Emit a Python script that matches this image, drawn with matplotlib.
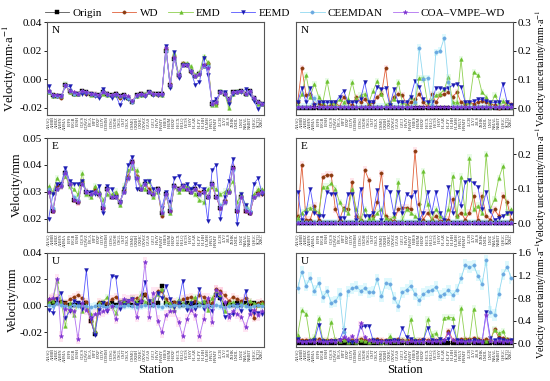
import numpy as np
import matplotlib.pyplot as plt

plt.rcParams['font.family'] = ['Liberation Serif', 'DejaVu Serif']
plt.rcParams['mathtext.fontset'] = 'stix'

stations = ['AHAQ', 'AHBB', 'AHBZ', 'AHHN', 'AHMA', 'BJFS', 'BJGB', 'BJSH', 'CQCS', 'CQWZ',
            'FJCA', 'FJPT', 'FJXP', 'GDJY', 'GDMM', 'GDSG', 'GSDH', 'GSGL', 'GSJT', 'GSLX',
            'GSMQ', 'GXBH', 'GXHC', 'GXWZ', 'GZAS', 'GZCJ', 'HAJY', 'HAMY', 'HBES', 'HBJM',
            'HBXF', 'HECX', 'HELQ', 'HETS', 'HISY', 'HLAR', 'HLFY', 'HLHH', 'HLMH', 'HNLY',
            'HNMY', 'JLCB', 'JLYJ', 'JSLS', 'JXHK', 'LNDL', 'LNJZ', 'NMAL', 'NMBT', 'QHGC',
            'SCTQ', 'XJKC']

methods = ['Origin', 'WD', 'EMD', 'EEMD', 'CEEMDAN', 'COA–VMPE–WD']

# ---- velocity, N
N_origin = [-0.009, -0.011, -0.012, -0.012, -0.004, -0.008, -0.010, -0.010, -0.008, -0.009,
            -0.010, -0.011, -0.011, -0.009, -0.010, -0.011, -0.010, -0.012, -0.011, -0.013,
            -0.016, -0.011, -0.010, -0.011, -0.009, -0.010, -0.010, -0.010, 0.020, -0.004,
            0.014, 0.003, 0.010, 0.010, 0.006, 0.002, 0.004, 0.009, 0.009, -0.017,
            -0.016, -0.009, -0.010, -0.014, -0.009, -0.009, -0.008, -0.010, -0.008, -0.013,
            -0.016, -0.017]
N_wd = [-0.009, -0.011, -0.012, -0.013, -0.004, -0.009, -0.010, -0.010, -0.008, -0.010,
        -0.010, -0.011, -0.012, -0.009, -0.010, -0.011, -0.010, -0.013, -0.011, -0.013,
        -0.015, -0.011, -0.010, -0.011, -0.009, -0.010, -0.011, -0.010, 0.021, -0.003,
        0.016, 0.002, 0.011, 0.010, 0.005, 0.002, 0.004, 0.009, 0.011, -0.017,
        -0.017, -0.009, -0.010, -0.015, -0.009, -0.009, -0.008, -0.010, -0.009, -0.014,
        -0.016, -0.017]
N_emd = [-0.009, -0.012, -0.011, -0.012, -0.003, -0.009, -0.010, -0.010, -0.009, -0.009,
         -0.011, -0.010, -0.011, -0.010, -0.011, -0.011, -0.011, -0.012, -0.012, -0.013,
         -0.015, -0.012, -0.011, -0.010, -0.009, -0.010, -0.010, -0.011, 0.022, -0.005,
         0.018, 0.004, 0.011, 0.011, 0.009, 0.003, 0.005, 0.016, 0.012, -0.018,
         -0.018, -0.008, -0.010, -0.020, -0.010, -0.008, -0.008, -0.010, -0.009, -0.013,
         -0.017, -0.017]
N_eemd = [-0.005, -0.012, -0.012, -0.012, -0.005, -0.005, -0.010, -0.010, -0.010, -0.010,
          -0.010, -0.012, -0.013, -0.007, -0.011, -0.013, -0.011, -0.018, -0.013, -0.014,
          -0.016, -0.012, -0.011, -0.012, -0.009, -0.011, -0.011, -0.011, 0.023, -0.006,
          0.019, 0.001, 0.010, 0.010, 0.005, -0.004, -0.002, 0.015, 0.003, -0.016,
          -0.014, -0.009, -0.009, -0.017, -0.010, -0.009, -0.009, -0.007, -0.010, -0.015,
          -0.021, -0.017]
N_ceemdan = [-0.009, -0.011, -0.012, -0.012, -0.004, -0.008, -0.010, -0.010, -0.008, -0.009,
             -0.010, -0.011, -0.011, -0.009, -0.010, -0.011, -0.010, -0.012, -0.011, -0.013,
             -0.016, -0.011, -0.010, -0.011, -0.009, -0.010, -0.010, -0.010, 0.020, -0.004,
             0.014, 0.003, 0.010, 0.010, 0.006, 0.002, 0.004, 0.009, 0.009, -0.017,
             -0.016, -0.009, -0.010, -0.014, -0.009, -0.009, -0.008, -0.010, -0.008, -0.013,
             -0.016, -0.017]
N_coa = [-0.008, -0.011, -0.011, -0.012, -0.004, -0.008, -0.009, -0.010, -0.008, -0.009,
         -0.010, -0.010, -0.011, -0.009, -0.010, -0.011, -0.010, -0.012, -0.011, -0.012,
         -0.015, -0.011, -0.010, -0.011, -0.009, -0.010, -0.010, -0.010, 0.022, -0.004,
         0.015, 0.003, 0.010, 0.010, 0.006, 0.002, 0.004, 0.010, 0.008, -0.017,
         -0.016, -0.009, -0.010, -0.014, -0.009, -0.009, -0.008, -0.010, -0.008, -0.013,
         -0.016, -0.017]

# ---- velocity, E
E_origin = [0.030, 0.023, 0.031, 0.032, 0.037, 0.033, 0.027, 0.026, 0.033, 0.030,
            0.029, 0.030, 0.029, 0.024, 0.031, 0.028, 0.028, 0.026, 0.030, 0.035,
            0.041, 0.035, 0.031, 0.033, 0.030, 0.029, 0.031, 0.022, 0.029, 0.023,
            0.032, 0.031, 0.032, 0.031, 0.030, 0.031, 0.029, 0.030, 0.028, 0.033,
            0.028, 0.024, 0.026, 0.030, 0.039, 0.023, 0.028, 0.023, 0.022, 0.028,
            0.029, 0.030]
E_wd = [0.031, 0.023, 0.032, 0.032, 0.036, 0.033, 0.027, 0.026, 0.034, 0.030,
        0.029, 0.031, 0.029, 0.024, 0.031, 0.028, 0.029, 0.026, 0.031, 0.036,
        0.041, 0.036, 0.031, 0.033, 0.031, 0.029, 0.031, 0.021, 0.029, 0.023,
        0.032, 0.031, 0.032, 0.031, 0.030, 0.031, 0.030, 0.030, 0.028, 0.032,
        0.028, 0.024, 0.027, 0.030, 0.039, 0.023, 0.028, 0.023, 0.022, 0.028,
        0.030, 0.029]
E_emd = [0.032, 0.030, 0.035, 0.033, 0.036, 0.032, 0.031, 0.029, 0.037, 0.029,
         0.028, 0.032, 0.030, 0.027, 0.029, 0.029, 0.030, 0.025, 0.032, 0.038,
         0.039, 0.038, 0.032, 0.031, 0.034, 0.028, 0.030, 0.022, 0.029, 0.022,
         0.032, 0.030, 0.031, 0.032, 0.031, 0.029, 0.027, 0.026, 0.031, 0.032,
         0.031, 0.029, 0.030, 0.031, 0.034, 0.026, 0.029, 0.025, 0.023, 0.029,
         0.031, 0.031]
E_eemd = [0.020, 0.029, 0.033, 0.033, 0.039, 0.034, 0.033, 0.033, 0.034, 0.030,
          0.030, 0.029, 0.032, 0.022, 0.032, 0.031, 0.028, 0.026, 0.031, 0.040,
          0.043, 0.031, 0.031, 0.034, 0.034, 0.031, 0.030, 0.024, 0.030, 0.026,
          0.035, 0.036, 0.032, 0.033, 0.031, 0.033, 0.032, 0.031, 0.019, 0.038,
          0.040, 0.020, 0.028, 0.034, 0.042, 0.018, 0.029, 0.025, 0.022, 0.033,
          0.035, 0.029]
E_ceemdan = [0.031, 0.024, 0.031, 0.032, 0.037, 0.033, 0.028, 0.027, 0.033, 0.030,
             0.029, 0.030, 0.029, 0.025, 0.031, 0.028, 0.028, 0.026, 0.030, 0.035,
             0.040, 0.035, 0.031, 0.033, 0.030, 0.029, 0.031, 0.023, 0.029, 0.024,
             0.032, 0.031, 0.032, 0.031, 0.030, 0.031, 0.029, 0.030, 0.028, 0.033,
             0.028, 0.025, 0.026, 0.030, 0.038, 0.024, 0.028, 0.024, 0.023, 0.028,
             0.029, 0.030]
E_coa = [0.030, 0.023, 0.031, 0.032, 0.037, 0.033, 0.027, 0.026, 0.033, 0.030,
         0.029, 0.030, 0.029, 0.024, 0.031, 0.028, 0.028, 0.026, 0.030, 0.035,
         0.041, 0.035, 0.031, 0.033, 0.030, 0.029, 0.031, 0.022, 0.029, 0.023,
         0.032, 0.031, 0.032, 0.031, 0.030, 0.031, 0.029, 0.030, 0.028, 0.033,
         0.028, 0.024, 0.026, 0.030, 0.039, 0.023, 0.028, 0.023, 0.022, 0.028,
         0.029, 0.030]

# ---- velocity, U
U_origin = [0.002, 0.002, 0.002, 0.003, 0.002, 0.001, 0.001, 0.002, 0.001, 0.002,
            -0.011, -0.021, 0.001, 0.002, 0.001, 0.002, 0.001, 0.002, 0.003, 0.002,
            0.001, 0.002, 0.003, 0.008, 0.002, 0.001, 0.002, 0.015, 0.002, 0.001,
            0.002, 0.002, 0.001, 0.002, 0.001, 0.002, 0.001, 0.002, 0.003, 0.001,
            0.008, 0.006, 0.001, 0.002, 0.001, 0.002, 0.001, 0.002, 0.001, 0.002,
            0.001, 0.002]
U_wd = [0.005, 0.005, 0.006, 0.003, 0.002, 0.005, 0.007, 0.008, 0.006, 0.003,
        -0.011, -0.020, 0.003, 0.002, 0.002, 0.005, 0.007, 0.003, 0.001, 0.003,
        0.005, 0.006, 0.004, 0.009, 0.004, 0.002, 0.011, 0.011, 0.005, 0.002,
        0.003, 0.001, 0.005, 0.006, 0.007, 0.004, 0.008, 0.007, 0.003, 0.002,
        0.013, 0.011, 0.008, 0.004, 0.007, 0.005, 0.004, 0.006, 0.003, -0.009,
        0.002, 0.003]
U_emd = [0.003, 0.004, 0.019, 0.003, -0.015, 0.002, -0.007, 0.002, -0.004, 0.001,
         -0.006, -0.019, 0.002, 0.003, 0.007, 0.000, -0.005, 0.003, 0.004, 0.004,
         0.006, 0.003, 0.009, 0.003, 0.004, 0.005, 0.009, 0.013, 0.003, 0.002,
         -0.003, 0.005, 0.002, 0.000, 0.004, 0.007, 0.002, 0.004, -0.003, 0.006,
         0.011, 0.008, -0.004, 0.002, 0.003, 0.001, 0.002, 0.001, 0.004, 0.002,
         0.001, 0.002]
U_eemd = [-0.003, -0.005, 0.005, 0.010, -0.009, -0.004, 0.004, 0.002, -0.002, 0.027,
          -0.009, -0.022, -0.003, 0.002, -0.004, 0.023, 0.022, -0.002, 0.001, 0.004,
          0.005, 0.001, 0.003, 0.018, 0.004, 0.001, 0.010, 0.006, 0.015, 0.005,
          -0.001, 0.002, 0.019, -0.003, 0.002, -0.002, 0.013, -0.002, 0.000, -0.004,
          0.008, 0.005, -0.008, -0.007, -0.006, 0.001, -0.004, 0.011, -0.004, -0.005,
          -0.005, -0.006]
U_ceemdan = [0.001, 0.000, 0.002, 0.001, 0.000, -0.001, 0.001, 0.000, 0.001, 0.000,
             -0.001, 0.000, 0.001, 0.000, -0.001, 0.001, 0.000, 0.001, 0.000, 0.001,
             0.000, -0.001, 0.000, 0.001, 0.000, 0.001, 0.000, -0.001, 0.001, 0.000,
             0.001, 0.000, 0.001, 0.000, -0.001, 0.000, 0.001, 0.000, 0.001, 0.000,
             0.001, 0.000, -0.001, 0.000, 0.001, 0.000, 0.001, 0.000, -0.001, 0.000,
             0.001, 0.000]
U_coa = [0.005, 0.006, 0.020, -0.023, -0.002, -0.003, -0.004, -0.025, 0.002, -0.003,
         -0.009, -0.006, -0.005, -0.004, -0.003, 0.000, -0.010, 0.002, 0.005, 0.004,
         0.005, -0.008, 0.004, 0.033, -0.008, 0.010, -0.011, -0.020, -0.007, -0.004,
         -0.004, -0.012, -0.023, -0.010, -0.003, -0.007, -0.023, -0.010, 0.006, -0.012,
         0.012, 0.010, 0.003, -0.008, -0.004, -0.006, -0.008, -0.016, -0.006, -0.003,
         -0.007, -0.004]

# ---- velocity uncertainty, N
uN_origin = [0.0] * 52
uN_wd = [0.020, 0.140, 0.045, 0.050, 0.015, 0.015, 0.010, 0.005, 0.010, 0.020,
         0.005, 0.040, 0.020, 0.010, 0.040, 0.020, 0.030, 0.010, 0.020, 0.040,
         0.050, 0.140, 0.010, 0.040, 0.050, 0.045, 0.010, 0.020, 0.030, 0.050,
         0.020, 0.005, 0.050, 0.020, 0.045, 0.050, 0.055, 0.040, 0.055, 0.020,
         0.015, 0.020, 0.015, 0.020, 0.025, 0.020, 0.015, 0.010, 0.000, 0.005,
         0.020, 0.015]
uN_emd = [0.010, 0.050, 0.115, 0.040, 0.085, 0.040, 0.020, 0.095, 0.020, 0.015,
          0.030, 0.020, 0.030, 0.090, 0.030, 0.045, 0.050, 0.020, 0.060, 0.095,
          0.050, 0.010, 0.020, 0.030, 0.090, 0.020, 0.010, 0.040, 0.020, 0.105,
          0.105, 0.020, 0.030, 0.045, 0.050, 0.065, 0.110, 0.020, 0.020, 0.170,
          0.020, 0.020, 0.125, 0.115, 0.055, 0.040, 0.005, 0.045, 0.020, 0.025,
          0.010, 0.005]
uN_eemd = [0.020, 0.070, 0.020, 0.070, 0.010, 0.020, 0.020, 0.020, 0.020, 0.020,
           0.040, 0.060, 0.020, 0.020, 0.020, 0.030, 0.090, 0.020, 0.020, 0.075,
           0.065, 0.070, 0.010, 0.065, 0.020, 0.020, 0.020, 0.040, 0.095, 0.075,
           0.030, 0.020, 0.020, 0.070, 0.070, 0.065, 0.070, 0.080, 0.085, 0.075,
           0.020, 0.020, 0.025, 0.030, 0.030, 0.025, 0.020, 0.020, 0.020, 0.085,
           0.020, 0.010]
uN_ceemdan = [0.005, 0.005, 0.005, 0.005, 0.035, 0.005, 0.005, 0.005, 0.005, 0.005,
              0.005, 0.005, 0.005, 0.005, 0.005, 0.005, 0.005, 0.005, 0.005, 0.005,
              0.005, 0.005, 0.005, 0.005, 0.005, 0.005, 0.005, 0.005, 0.020, 0.210,
              0.100, 0.105, 0.010, 0.195, 0.200, 0.245, 0.090, 0.005, 0.005, 0.005,
              0.005, 0.005, 0.005, 0.005, 0.005, 0.005, 0.005, 0.005, 0.005, 0.005,
              0.005, 0.005]
uN_coa = [0.003, 0.003, 0.003, 0.003, 0.003, 0.003, 0.003, 0.003, 0.003, 0.003,
          0.003, 0.003, 0.003, 0.003, 0.003, 0.003, 0.003, 0.003, 0.003, 0.003,
          0.003, 0.003, 0.003, 0.003, 0.003, 0.003, 0.003, 0.003, 0.003, 0.003,
          0.003, 0.003, 0.003, 0.003, 0.003, 0.003, 0.003, 0.003, 0.003, 0.003,
          0.003, 0.003, 0.003, 0.003, 0.003, 0.003, 0.003, 0.003, 0.003, 0.003,
          0.003, 0.003]

# ---- velocity uncertainty, E
uE_origin = [0.0] * 52
uE_wd = [0.020, 0.170, 0.010, 0.010, 0.050, 0.010, 0.135, 0.140, 0.140, 0.040,
         0.010, 0.045, 0.040, 0.120, 0.020, 0.010, 0.155, 0.125, 0.020, 0.060,
         0.145, 0.020, 0.010, 0.005, 0.040, 0.045, 0.045, 0.040, 0.210, 0.055,
         0.010, 0.030, 0.010, 0.020, 0.005, 0.010, 0.010, 0.070, 0.020, 0.030,
         0.010, 0.030, 0.080, 0.010, 0.080, 0.020, 0.010, 0.040, 0.020, 0.080,
         0.060, 0.010]
uE_emd = [0.015, 0.030, 0.040, 0.045, 0.040, 0.030, 0.105, 0.105, 0.115, 0.100,
          0.060, 0.040, 0.030, 0.100, 0.040, 0.010, 0.040, 0.015, 0.015, 0.030,
          0.040, 0.015, 0.010, 0.020, 0.120, 0.010, 0.040, 0.030, 0.020, 0.010,
          0.150, 0.055, 0.010, 0.040, 0.020, 0.010, 0.040, 0.137, 0.020, 0.135,
          0.030, 0.190, 0.040, 0.050, 0.030, 0.200, 0.040, 0.070, 0.130, 0.165,
          0.030, 0.040]
uE_eemd = [0.090, 0.010, 0.030, 0.100, 0.030, 0.020, 0.020, 0.090, 0.085, 0.085,
           0.015, 0.015, 0.085, 0.085, 0.010, 0.100, 0.020, 0.020, 0.030, 0.095,
           0.010, 0.105, 0.090, 0.025, 0.090, 0.030, 0.085, 0.075, 0.090, 0.010,
           0.030, 0.090, 0.030, 0.090, 0.030, 0.010, 0.105, 0.030, 0.090, 0.050,
           0.120, 0.125, 0.115, 0.105, 0.040, 0.090, 0.035, 0.010, 0.015, 0.020,
           0.030, 0.030]
uE_ceemdan = [0.002, 0.002, 0.002, 0.002, 0.002, 0.002, 0.002, 0.002, 0.002, 0.002,
              0.002, 0.002, 0.002, 0.002, 0.002, 0.002, 0.002, 0.002, 0.002, 0.002,
              0.002, 0.002, 0.002, 0.002, 0.002, 0.002, 0.002, 0.002, 0.002, 0.002,
              0.002, 0.002, 0.002, 0.002, 0.002, 0.002, 0.002, 0.002, 0.002, 0.002,
              0.002, 0.002, 0.002, 0.002, 0.002, 0.002, 0.002, 0.002, 0.002, 0.002,
              0.002, 0.002]
uE_coa = [0.001, 0.001, 0.001, 0.001, 0.001, 0.001, 0.001, 0.001, 0.001, 0.001,
          0.001, 0.001, 0.001, 0.001, 0.001, 0.001, 0.001, 0.001, 0.001, 0.001,
          0.001, 0.001, 0.001, 0.001, 0.001, 0.001, 0.001, 0.001, 0.001, 0.001,
          0.001, 0.001, 0.001, 0.001, 0.001, 0.001, 0.001, 0.001, 0.001, 0.001,
          0.001, 0.001, 0.001, 0.001, 0.001, 0.001, 0.001, 0.001, 0.001, 0.001,
          0.001, 0.001]

# ---- velocity uncertainty, U
uU_origin = [0.0] * 52
uU_wd = [0.07, 0.05, 0.06, 0.05, 0.06, 0.07, 0.05, 0.06, 0.05, 0.06,
         0.05, 0.07, 0.06, 0.05, 0.06, 0.08, 0.06, 0.05, 0.06, 0.07,
         0.06, 0.05, 0.06, 0.05, 0.07, 0.06, 0.05, 0.06, 0.05, 0.06,
         0.07, 0.06, 0.05, 0.06, 0.07, 0.05, 0.22, 0.06, 0.05, 0.07,
         0.08, 0.07, 0.09, 0.08, 0.06, 0.07, 0.05, 0.25, 0.10, 0.09,
         0.07, 0.06]
uU_emd = [0.15, 0.58, 0.52, 0.05, 0.10, 0.44, 0.05, 0.03, 0.38, 0.05,
          0.03, 0.05, 0.02, 0.03, 0.02, 0.05, 0.03, 0.02, 0.04, 0.03,
          0.02, 0.02, 0.12, 0.04, 0.03, 0.05, 0.03, 0.43, 0.05, 0.04,
          0.03, 0.42, 0.15, 0.17, 0.05, 0.45, 0.46, 0.45, 0.05, 0.62,
          0.05, 0.04, 0.61, 0.05, 0.04, 0.03, 0.05, 0.24, 0.17, 0.21,
          0.05, 0.04]
uU_eemd = [0.08, 0.02, 0.02, 0.03, 0.05, 0.32, 0.03, 0.02, 0.03, 0.03,
           0.05, 0.24, 0.03, 0.02, 0.03, 0.28, 0.30, 0.30, 0.05, 0.03,
           0.02, 0.03, 0.03, 0.05, 0.03, 0.27, 0.10, 0.08, 0.03, 0.02,
           0.05, 0.27, 0.05, 0.03, 0.07, 0.04, 0.08, 0.29, 0.05, 0.03,
           0.02, 0.03, 0.05, 0.03, 0.02, 0.55, 0.09, 0.05, 0.08, 0.06,
           0.04, 0.05]
uU_ceemdan = [0.98, 1.27, 1.02, 1.16, 0.93, 1.07, 0.82, 0.92, 0.72, 0.74,
              0.87, 0.20, 0.92, 0.97, 1.00, 0.93, 0.97, 0.90, 0.91, 1.13,
              0.83, 1.06, 1.05, 0.80, 0.66, 0.90, 0.95, 1.02, 0.87, 0.76,
              0.87, 0.92, 0.94, 1.00, 0.84, 0.88, 0.94, 0.85, 0.95, 1.15,
              1.39, 1.35, 1.38, 1.20, 1.05, 1.47, 0.55, 0.50, 0.88, 1.22,
              1.36, 1.15]
uU_coa = [0.03, 0.02, 0.02, 0.03, 0.02, 0.03, 0.02, 0.02, 0.03, 0.02,
          0.05, 0.10, 0.08, 0.12, 0.03, 0.35, 0.10, 0.05, 0.03, 0.02,
          0.03, 0.02, 0.02, 0.03, 0.02, 0.03, 0.02, 0.03, 0.02, 0.03,
          0.02, 0.03, 0.02, 0.03, 0.02, 0.05, 0.18, 0.05, 0.02, 0.03,
          0.02, 0.03, 0.02, 0.03, 0.02, 0.50, 0.03, 0.02, 0.03, 0.02,
          0.03, 0.02]

line_colors = ['#555555', '#e0603a', '#8fd050', '#5555ff', '#90d8f0', '#b070f0']
marker_colors = ['#000000', '#8b3a10', '#6cc030', '#1a1ab0', '#6aa8e0', '#7a30d0']
band_colors = [None, '#ff9fb0', '#a8f0a0', None, '#80e8f8', '#ff9fd0']
markers = ['s', 'o', '^', 'v', 'o', '*']
sizes = [2.4, 2.4, 2.6, 2.8, 2.4, 3.4]

x = np.arange(len(stations))


def draw(ax, series, bands):
    for i, vals in enumerate(series):
        vals = np.asarray(vals)
        if bands[i]:
            ax.fill_between(x, vals - bands[i], vals + bands[i], step='mid',
                            color=band_colors[i], alpha=0.25, lw=0, zorder=1)
        ax.plot(x, vals, color=line_colors[i], lw=0.6, marker=markers[i], ms=sizes[i],
                mfc=marker_colors[i], mec=marker_colors[i], mew=0.3, label=methods[i], zorder=2 + i)
    ax.set_xlim(-0.4, len(stations) - 0.6)
    ax.set_xticks(x)
    ax.set_xticklabels(stations, rotation=90, fontsize=3.2, color='#333333')
    ax.tick_params(axis='x', length=0, pad=1)
    ax.tick_params(axis='y', labelsize=8, length=2, width=0.6, pad=1.5)
    for s in ax.spines.values():
        s.set_color('#555555')
        s.set_linewidth(0.8)


fig = plt.figure(figsize=(5.5, 3.81), dpi=100)
lx, rx, w = 47 / 550, 296 / 550, 217 / 550
rows = [(1 - 115 / 381, 93 / 381), (1 - 232 / 381, 94 / 381), (1 - 347 / 381, 94 / 381)]

left_data = [
    [N_origin, N_wd, N_emd, N_eemd, N_ceemdan, N_coa],
    [E_origin, E_wd, E_emd, E_eemd, E_ceemdan, E_coa],
    [U_origin, U_wd, U_emd, U_eemd, U_ceemdan, U_coa],
]
right_data = [
    [uN_origin, uN_wd, uN_emd, uN_eemd, uN_ceemdan, uN_coa],
    [uE_origin, uE_wd, uE_emd, uE_eemd, uE_ceemdan, uE_coa],
    [uU_origin, uU_wd, uU_emd, uU_eemd, uU_ceemdan, uU_coa],
]
left_lims = [(-0.025, 0.04), (0.015, 0.0495), (-0.031, 0.04)]
left_ticks = [[-0.02, 0.0, 0.02, 0.04], [0.02, 0.03, 0.04, 0.05], [-0.02, 0.0, 0.02, 0.04]]
left_labels = [r'Velocity/mm$\cdot$a$^{-1}$', 'Velocity/mm', 'Velocity/mm']
right_lims = [(-0.024, 0.3), (-0.026, 0.247), (-0.07, 1.6)]
right_ticks = [[0.0, 0.1, 0.2, 0.3], [0.0, 0.1, 0.2], [0.0, 0.4, 0.8, 1.2, 1.6]]
comps = ['N', 'E', 'U']
left_bands = [[0, 0.0015, 0.0015, 0, 0.0015, 0.0015],
              [0, 0.0012, 0.0012, 0, 0.0012, 0.0012],
              [0, 0.003, 0.002, 0, 0.003, 0.004]]
right_bands = [[0, 0.01, 0.01, 0, 0.012, 0.006],
               [0, 0.01, 0.01, 0, 0.01, 0.006],
               [0, 0.04, 0.06, 0, 0.1, 0.04]]

for r in range(3):
    y0, h = rows[r]
    axl = fig.add_axes([lx, y0, w, h])
    draw(axl, left_data[r], left_bands[r])
    axl.set_ylim(*left_lims[r])
    axl.set_yticks(left_ticks[r])
    axl.set_yticklabels(['%.2f' % t for t in left_ticks[r]])
    axl.set_ylabel(left_labels[r], fontsize=9, labelpad=0)
    axl.text(0.02, 0.96, comps[r], transform=axl.transAxes, va='top', ha='left', fontsize=8)
    if r == 0:
        handles, labels = axl.get_legend_handles_labels()

    axr = fig.add_axes([rx, y0, w, h])
    draw(axr, right_data[r], right_bands[r])
    axr.set_ylim(*right_lims[r])
    axr.set_yticks(right_ticks[r])
    axr.set_yticklabels(['%.1f' % t for t in right_ticks[r]])
    axr.yaxis.tick_right()
    axr.yaxis.set_label_position('right')
    axr.set_ylabel(r'Velocity uncertainty/mm$\cdot$a$^{-1}$', fontsize=7.2, labelpad=1)
    axr.text(0.02, 0.96, comps[r], transform=axr.transAxes, va='top', ha='left', fontsize=8)
    if r == 2:
        axl.set_xlabel('Station', fontsize=9, labelpad=1)
        axr.set_xlabel('Station', fontsize=9, labelpad=1)

fig.legend(handles, labels, loc='center', bbox_to_anchor=(0.5, 0.966), ncol=6,
           frameon=False, fontsize=8, handlelength=2.2, columnspacing=0.9,
           handletextpad=0.3, borderaxespad=0)

fig.savefig('out.png', dpi=100)
